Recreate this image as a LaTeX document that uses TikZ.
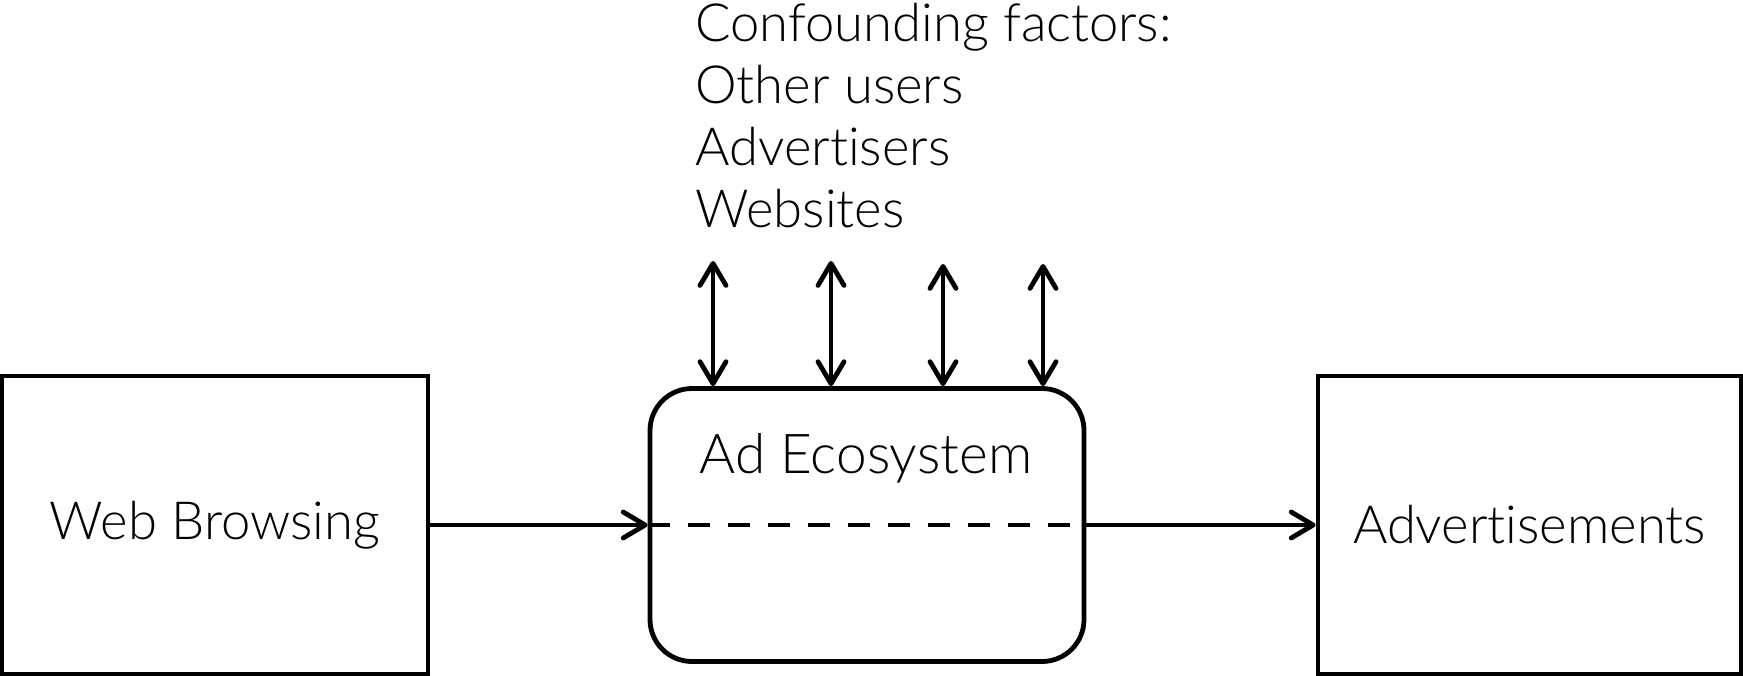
\documentclass[tikz,border=0pt]{standalone}
\usepackage{fontspec}
\setmainfont{Lato}[UprightFont=* Light,Ligatures=NoCommon]
\usetikzlibrary{arrows.meta,positioning}

\begin{document}
\begin{tikzpicture}[x=0.5pt,y=-0.5pt,
    every path/.style={line width=2.4pt},
    >={Straight Barb[length=11pt,width=13pt,line cap=round,line join=round]},
    font=\fontsize{26.3}{31}\selectfont,
    plainbox/.style={draw,line width=2.4pt,rectangle,minimum width=213pt,minimum height=149pt,inner sep=0pt},
    ecobox/.style={draw,line width=2.4pt,rectangle,rounded corners=21pt,minimum width=217pt,minimum height=136.5pt,inner sep=0pt}]
  \useasboundingbox (0,0) rectangle (1743,675);

  \node[plainbox] (web) at (215,525)    {Web Browsing};
  \node[ecobox]   (eco) at (867,525)    {};
  \node[plainbox,minimum width=211.5pt] (ads) at (1529.5,525) {Advertisements};
  \node[anchor=base,inner sep=0pt,font=\fontsize{27.5}{31}\selectfont] (econame) at (866,473) {Ad Ecosystem};

  \node[anchor=base west,align=left,inner sep=0pt] (factors) at (693,227)
    {Confounding factors:\\Other users\\Advertisers\\Websites};

  \path[->] (web) edge (eco)
            (eco) edge (ads);
  \draw[dash pattern=on 11pt off 9pt] (eco.west) -- (eco.east);

  % influences from outside
  \foreach \i/\x/\y in {1/713/261,2/831/261,3/943/264,4/1043/264}{
    \coordinate (f\i) at (\x,\y);
    \draw[<->] (f\i) -- (f\i |- eco.north);
  }
\end{tikzpicture}
\end{document}
